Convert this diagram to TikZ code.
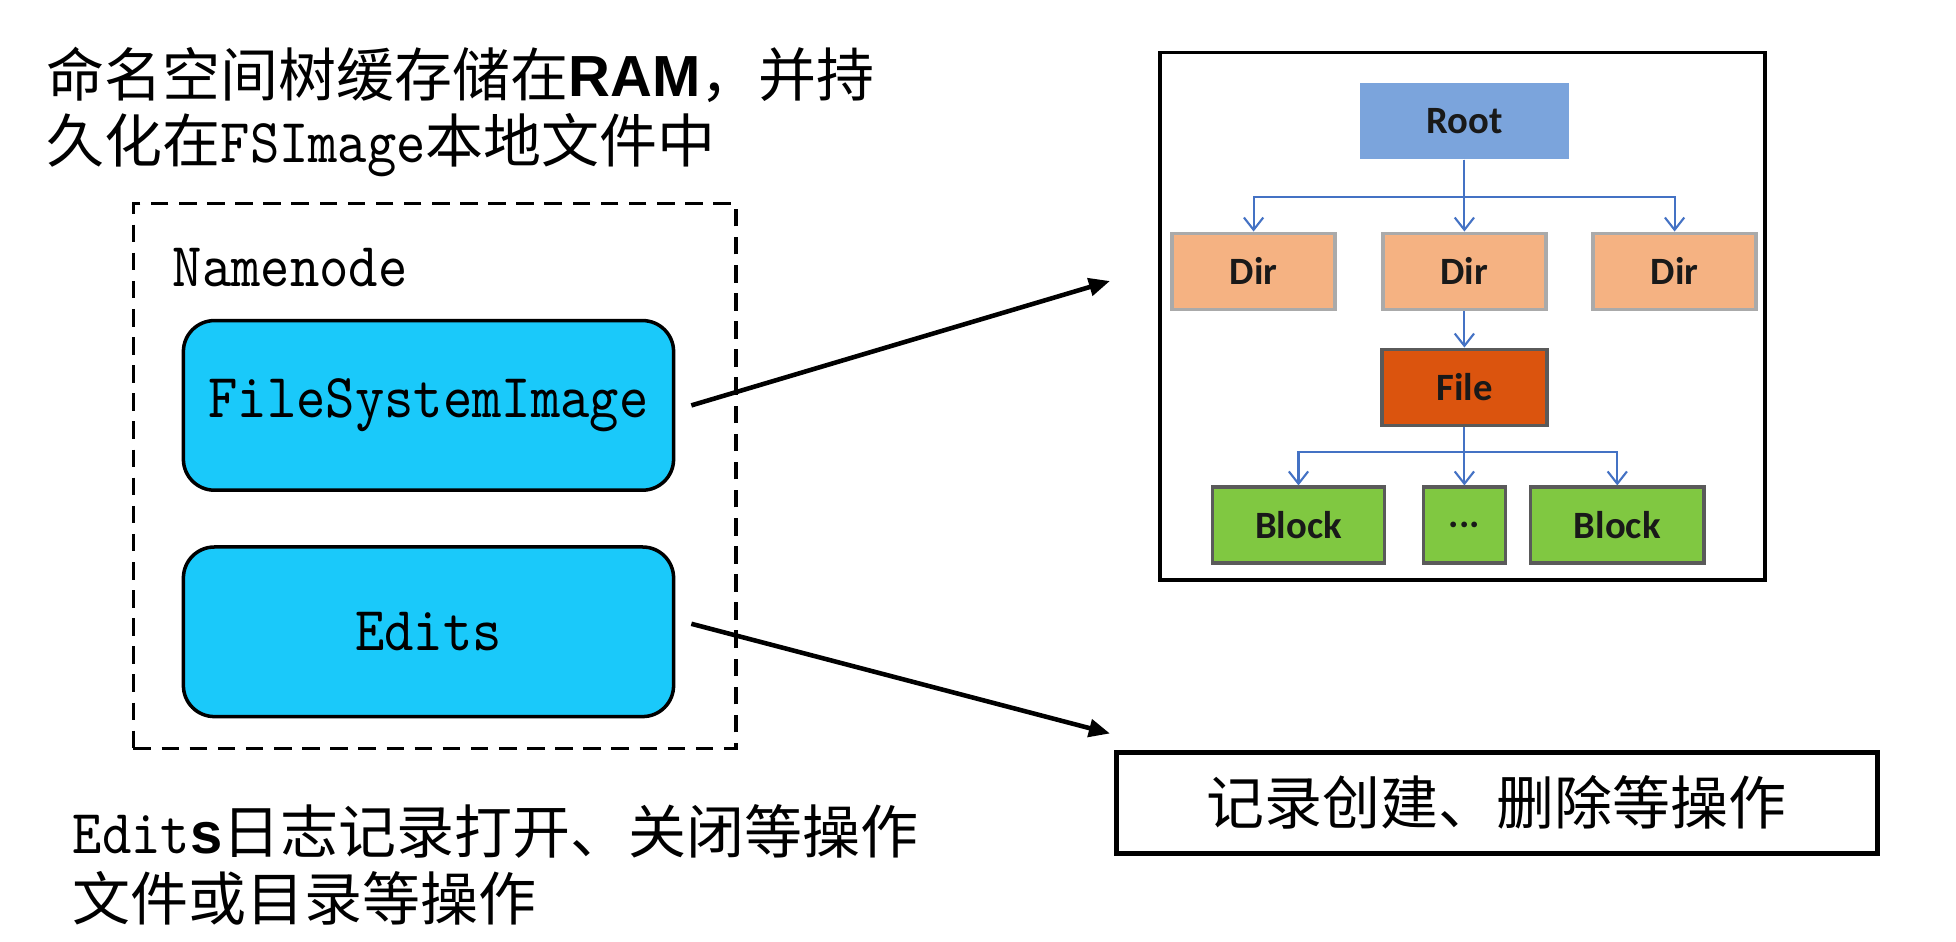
\documentclass[tikz,border=0pt]{standalone}
\usepackage{fontspec}
\setmainfont{Noto Sans CJK SC}
\newfontfamily\arialfont{Liberation Sans}
\newfontfamily\calfont{Carlito}
\newfontfamily\monoface{lmmono10-regular.otf}[FakeStretch=0.893]
\usetikzlibrary{arrows.meta}

\definecolor{nodecyan}{RGB}{26,201,250}
\definecolor{rootblue}{RGB}{123,164,220}
\definecolor{dirpeach}{RGB}{245,178,130}
\definecolor{fileorange}{RGB}{219,84,14}
\definecolor{blockgreen}{RGB}{128,200,65}
\definecolor{linkblue}{RGB}{68,114,196}
\definecolor{lightedge}{RGB}{170,170,170}
\definecolor{darkedge}{RGB}{90,90,90}

\newcommand{\monofont}{\fontsize{17.8pt}{19pt}\selectfont\monoface}
\newcommand{\mono}[1]{{\monofont #1}}

\begin{document}
\begin{tikzpicture}[
    cjktext/.style={inner sep=0pt, font=\fontsize{16.5pt}{19pt}\selectfont},
    membox/.style={draw, line width=1pt, fill=nodecyan, rounded corners=0.31cm,
        minimum width=4.902cm, minimum height=1.696cm, font=\monofont},
    treebox/.style={minimum height=0.76cm, inner sep=0pt, text=black!90,
        font=\calfont\bfseries\fontsize{11pt}{13pt}\selectfont},
    dirbox/.style={treebox, fill=dirpeach, draw=lightedge, line width=1pt, minimum width=1.63cm},
    blockbox/.style={treebox, fill=blockgreen, draw=darkedge, line width=1pt},
    treearrow/.style={draw=linkblue, line width=0.6pt, -{Straight Barb[length=3.5pt,width=5.5pt]}},
    bigarrow/.style={line width=1.3pt, -{Triangle[length=6pt,width=5pt]}}
]
\useasboundingbox (0,0) rectangle (19.56,-9.42);

\node[cjktext, anchor=north west, align=left] (title) at (0.46,-0.46)
    {命名空间树缓存储在{\arialfont\bfseries RAM}，并持\\久化在\mono{FSImage}本地文件中};

\node[draw, line width=0.9pt, dash pattern=on 5pt off 3pt,
    minimum width=6.025cm, minimum height=5.451cm] (namenode) at (4.347,-4.759) {};
\node[anchor=west, inner sep=0pt, font=\monofont] (nnlabel) at (1.72,-2.68) {Namenode};
\node[membox] (fsi) at (4.285,-4.054) {FileSystemImage};
\node[membox] (edits) at (4.285,-6.318) {Edits};

\node[draw, line width=1pt, minimum width=6.05cm, minimum height=5.277cm] (tree) at (14.626,-3.162) {};
\node[treebox, fill=rootblue, minimum width=2.083cm] (root) at (14.644,-1.210) {Root};
\node[dirbox] (dirl) at (12.536,-2.713) {Dir};
\node[dirbox] (dirm) at (14.644,-2.713) {Dir};
\node[dirbox] (dirr) at (16.746,-2.713) {Dir};
\node[treebox, fill=fileorange, draw=darkedge, line width=1pt, minimum width=1.647cm] (file) at (14.644,-3.873) {File};
\node[blockbox, minimum width=1.721cm] (blkl) at (12.985,-5.252) {Block};
\node[blockbox, minimum width=0.82cm] (blkdots) at (14.644,-5.252) {...};
\node[blockbox, minimum width=1.734cm] (blkr) at (16.173,-5.252) {Block};

\coordinate (rootbus) at ([yshift=-0.374cm]root.south);
\coordinate (filebus) at ([yshift=-0.25cm]file.south);
\draw[treearrow] (root.south) -- (dirm.north);
\draw[treearrow] (root.south) -- (rootbus) -| (dirl.north);
\draw[treearrow] (root.south) -- (rootbus) -| (dirr.north);
\draw[treearrow] (dirm.south) -- (file.north);
\draw[treearrow] (file.south) -- (blkdots.north);
\draw[treearrow] (file.south) -- (filebus) -| (blkl.north);
\draw[treearrow] (file.south) -- (filebus) -| (blkr.north);

\node[cjktext, draw, line width=1.5pt, inner sep=0pt, minimum width=7.609cm, minimum height=1.01cm] (oplog) at (14.969,-8.027) {记录创建、删除等操作};

\coordinate (fsitip) at (11.10,-2.81);
\coordinate (edtip) at (11.10,-7.335);
\draw[bigarrow] ([xshift=0.16cm]fsi.east) -- (fsitip);
\draw[bigarrow] ([xshift=0.16cm,yshift=0.08cm]edits.east) -- (edtip);

\node[cjktext, anchor=north west, align=left] (editsnote) at (0.72,-8.04)
    {\mono{Edit}{\arialfont\bfseries s}日志记录打开、关闭等操作\\文件或目录等操作};
\end{tikzpicture}
\end{document}
